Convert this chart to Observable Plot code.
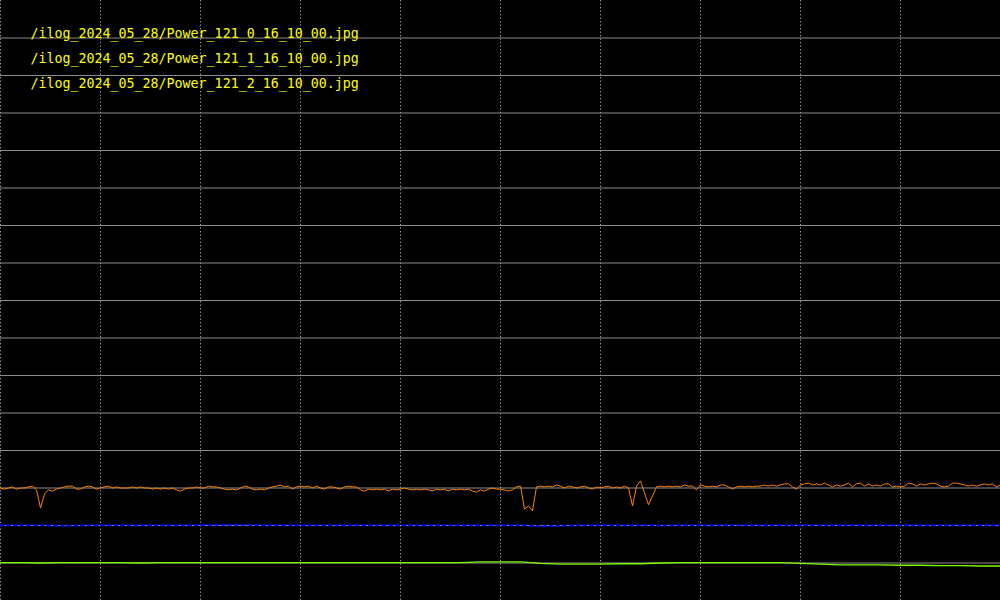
<!DOCTYPE html>
<html><head><meta charset="utf-8">
<script src="https://cdn.jsdelivr.net/npm/d3@7"></script>
<script src="https://cdn.jsdelivr.net/npm/@observablehq/plot@0.6"></script>
<style>html,body{margin:0;padding:0;background:#000;overflow:hidden}#chart svg{display:block}</style>
</head><body><div id="chart"></div>
<script>
const labels = [
  "/ilog_2024_05_28/Power_121_0_16_10_00.jpg",
  "/ilog_2024_05_28/Power_121_1_16_10_00.jpg",
  "/ilog_2024_05_28/Power_121_2_16_10_00.jpg"
];
// series 0 (orange), one sample every 4 time units
const orange = [
  300,297,300,303,297,300,300,303,305,295,
  247,284,295,292,297,300,303,305,305,297,
  297,303,305,303,297,300,303,305,300,303,
  300,300,300,303,300,303,300,300,297,300,
  297,300,297,300,295,292,297,300,300,303,
  300,300,305,303,303,300,297,295,297,295,
  300,305,303,297,295,297,295,300,303,305,
  308,303,305,297,303,305,303,305,300,305,
  300,297,303,303,300,297,303,305,303,303,
  295,292,297,295,297,295,297,292,297,295,
  297,300,297,295,297,295,297,295,292,297,
  295,297,292,297,295,297,295,297,292,289,
  295,292,297,300,297,297,295,292,295,303,
  305,244,252,239,303,305,303,305,303,308,
  305,300,305,303,300,303,305,300,297,303,
  300,303,305,300,303,300,305,300,252,305,
  319,287,255,279,303,305,303,305,303,305,
  303,308,305,305,295,308,305,303,305,303,
  308,308,303,297,303,305,303,305,303,305,
  305,308,305,308,305,308,311,311,303,297,
  308,311,313,308,311,308,313,308,303,308,
  305,308,313,303,311,313,305,311,305,308,
  305,311,311,303,305,303,305,313,311,305,
  311,308,311,313,311,305,303,305,313,313,
  311,308,305,308,305,308,311,308,311,303,308
];
// series 1 (blue), one sample every 20 time units
const blue = [
  201,201,201,199,200,201,201,201,201,201,
  201,202,202,201,201,201,201,201,201,201,
  201,201,201,201,201,201,201,198,199,201,
  201,201,201,200,201,201,201,201,201,201,
  201,201,201,201,201,201,201,201,201,201,201
];
// series 2 (green), one sample every 20 time units
const green = [
  101,101,100,101,101,101,101,100,101,101,
  101,101,101,101,101,101,101,101,101,101,
  101,101,101,101,103,103,103,99,97,97,
  97,98,98,100,101,101,101,101,101,101,
  99,97,95,95,95,94,94,93,93,92,92
];
const xTicks = [0,100,200,300,400,500,600,700,800,900];
const yTicks = [100,200,300,400,500,600,700,800,900,1000,1100,1200,1300,1400,1500];
const colors = ["#ff8000", "#0000ff", "#7cfc00"];

const rows = (vals, step) => vals.map((v, i) => ({t: i * step, v}));

const chart = Plot.plot({
  width: 1000,
  height: 600,
  margin: 0,
  style: {background: "#000"},
  x: {domain: [0, 1000], axis: null},
  y: {domain: [0, 1600], axis: null},
  marks: [
    Plot.ruleX(xTicks, {stroke: "#a0a0a0", strokeWidth: 1, strokeDasharray: "1.3,2.2"}),
    Plot.ruleY(yTicks, {stroke: "#8c8c8c", strokeWidth: 1}),
    Plot.line(rows(green, 20), {x: "t", y: "v", stroke: colors[2], strokeWidth: 1.3}),
    Plot.line(rows(blue, 20), {x: "t", y: "v", stroke: colors[1], strokeWidth: 2, strokeDasharray: "3,3.7"}),
    Plot.line(rows(orange, 4), {x: "t", y: "v", stroke: colors[0], strokeWidth: 1}),
    ...labels.map((s, i) => Plot.text([s], {
      text: d => d,
      frameAnchor: "top-left",
      dx: 30,
      dy: 28 + 25 * i,
      fill: "#ffff00",
      fontFamily: "DejaVu Sans Mono",
      fontSize: 13.3
    }))
  ]
});
document.getElementById("chart").appendChild(chart);
</script>
</body></html>
